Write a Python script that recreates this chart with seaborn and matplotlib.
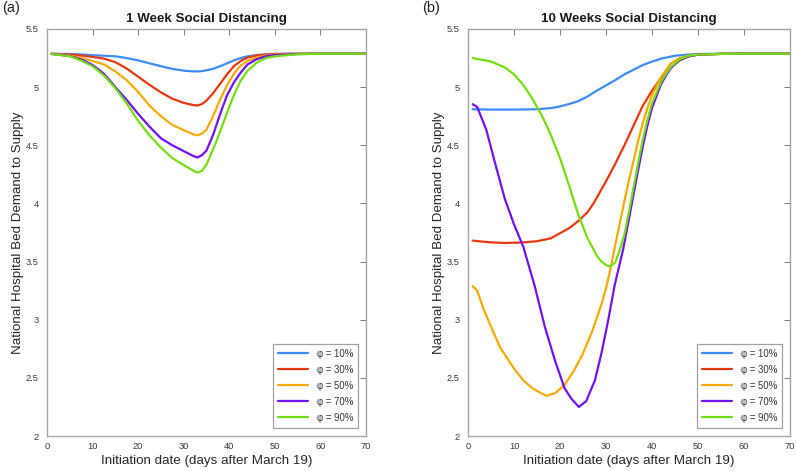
import numpy as np
import pandas as pd
import seaborn as sns
import matplotlib
matplotlib.use("Agg")
import matplotlib.pyplot as plt

# ---------------- data ----------------
series_labels = ["φ = 10%", "φ = 30%", "φ = 50%", "φ = 70%", "φ = 90%"]
colors = ["#3a8cff", "#e8380f", "#f7aa05", "#7212f0", "#74dd10"]

# Panel (a): 1 week social distancing
x_a = [1, 5, 8, 10, 12.5, 15, 17.5, 20, 22.5, 25, 27.5, 30, 32, 33, 34, 35, 36.5, 38, 39.5, 41, 42.5, 44, 46, 48, 50, 55, 60, 70]
a_10 = [5.287, 5.285, 5.28, 5.275, 5.27, 5.265, 5.25, 5.23, 5.205, 5.18, 5.157, 5.142, 5.136, 5.135, 5.138, 5.145, 5.158, 5.18, 5.205, 5.23, 5.25, 5.265, 5.275, 5.282, 5.286, 5.287, 5.287, 5.287]
a_30 = [5.287, 5.28, 5.27, 5.26, 5.245, 5.215, 5.16, 5.09, 5.02, 4.955, 4.9, 4.865, 4.846, 4.842, 4.855, 4.885, 4.95, 5.03, 5.11, 5.18, 5.225, 5.255, 5.272, 5.28, 5.285, 5.287, 5.287, 5.287]
a_50 = [5.286, 5.272, 5.245, 5.225, 5.195, 5.135, 5.06, 4.96, 4.84, 4.75, 4.675, 4.63, 4.595, 4.585, 4.6, 4.635, 4.755, 4.895, 5.015, 5.115, 5.185, 5.225, 5.255, 5.27, 5.28, 5.286, 5.287, 5.287]
a_70 = [5.286, 5.268, 5.23, 5.19, 5.115, 5.0, 4.89, 4.77, 4.66, 4.56, 4.5, 4.45, 4.41, 4.395, 4.415, 4.455, 4.595, 4.77, 4.93, 5.04, 5.125, 5.195, 5.24, 5.265, 5.275, 5.285, 5.287, 5.287]
a_90 = [5.285, 5.265, 5.22, 5.18, 5.1, 4.99, 4.86, 4.71, 4.585, 4.48, 4.39, 4.33, 4.285, 4.265, 4.28, 4.335, 4.47, 4.62, 4.78, 4.93, 5.055, 5.14, 5.21, 5.25, 5.265, 5.283, 5.287, 5.287]

# Panel (b): 10 weeks social distancing
x_b10 = [1, 5, 10, 15, 18, 20, 22, 24, 26, 28, 30, 32, 34, 36, 38, 40, 42, 45, 48, 50, 55, 60, 70]
b_10 = [4.81, 4.807, 4.807, 4.81, 4.82, 4.834, 4.855, 4.88, 4.92, 4.97, 5.015, 5.06, 5.11, 5.15, 5.19, 5.22, 5.245, 5.27, 5.28, 5.285, 5.287, 5.287, 5.287]
x_b30 = [1, 3, 5, 8, 10, 12, 15, 18, 20, 22, 24, 26, 27.2, 28, 30, 32, 34, 36, 38, 40, 42, 44, 46, 48, 50, 55, 60, 70]
b_30 = [3.68, 3.672, 3.665, 3.66, 3.662, 3.665, 3.675, 3.70, 3.744, 3.787, 3.85, 3.925, 3.995, 4.05, 4.19, 4.34, 4.50, 4.67, 4.84, 4.97, 5.08, 5.17, 5.23, 5.265, 5.28, 5.286, 5.287, 5.287]
x_b50 = [1, 2, 3.5, 5, 7, 10, 12, 14, 17, 19, 21, 23, 25, 27, 29, 30, 31, 32, 33, 34, 35, 36, 37, 38, 39, 40, 42, 44, 46, 48, 50, 55, 60, 70]
b_50 = [3.29, 3.25, 3.08, 2.94, 2.76, 2.58, 2.48, 2.41, 2.345, 2.37, 2.44, 2.56, 2.71, 2.90, 3.13, 3.27, 3.44, 3.64, 3.83, 4.02, 4.20, 4.37, 4.54, 4.69, 4.82, 4.93, 5.09, 5.20, 5.25, 5.27, 5.28, 5.286, 5.287, 5.287]
x_b70 = [1, 2, 4, 6, 8, 10, 12, 14.5, 16.7, 18.9, 21, 22.5, 24.1, 25.7, 27.6, 29, 30.5, 31.9, 33.7, 35, 36, 37, 38, 39, 40, 42, 44, 46, 48, 50, 55, 60, 70]
b_70 = [4.853, 4.83, 4.63, 4.33, 4.04, 3.82, 3.63, 3.29, 2.94, 2.65, 2.41, 2.32, 2.25, 2.30, 2.48, 2.71, 3.0, 3.30, 3.6, 3.87, 4.08, 4.29, 4.49, 4.67, 4.82, 5.03, 5.16, 5.235, 5.265, 5.28, 5.286, 5.287, 5.287]
x_b90 = [1, 5, 8, 10, 12, 14, 16, 18, 20, 22, 24, 26, 28, 29, 30, 30.8, 32, 33, 34, 35, 36, 37, 38, 39, 40, 42, 44, 46, 48, 50, 55, 60, 70]
b_90 = [5.25, 5.22, 5.17, 5.11, 5.02, 4.90, 4.76, 4.59, 4.39, 4.15, 3.90, 3.70, 3.55, 3.50, 3.47, 3.457, 3.49, 3.60, 3.73, 3.93, 4.14, 4.35, 4.55, 4.72, 4.86, 5.05, 5.17, 5.24, 5.27, 5.28, 5.286, 5.287, 5.287]

titles = ["1 Week Social Distancing", "10 Weeks Social Distancing"]
panel_tags = ["(a)", "(b)"]
xlabel = "Initiation date (days after March 19)"
ylabel = "National Hospital Bed Demand to Supply"
xticks = [0, 10, 20, 30, 40, 50, 60, 70]
yticks = [2, 2.5, 3, 3.5, 4, 4.5, 5, 5.5]
ytick_labels = ["2", "2.5", "3", "3.5", "4", "4.5", "5", "5.5"]

# ---------------- build tables ----------------
def long_df(pairs):
    frames = []
    for lab, (xs, ys) in zip(series_labels, pairs):
        frames.append(pd.DataFrame({"x": xs, "y": ys, "series": lab}))
    return pd.concat(frames, ignore_index=True)

df_a = long_df([(x_a, a_10), (x_a, a_30), (x_a, a_50), (x_a, a_70), (x_a, a_90)])
df_b = long_df([(x_b10, b_10), (x_b30, b_30), (x_b50, b_50), (x_b70, b_70), (x_b90, b_90)])

# ---------------- plot ----------------
sns.set_style("white")
plt.rcParams["font.family"] = ["Liberation Sans", "DejaVu Sans"]

fig = plt.figure(figsize=(7.96, 4.71), dpi=100)
ax_a = fig.add_axes([47 / 796, 35 / 471, 319 / 796, 407 / 471])
ax_b = fig.add_axes([468 / 796, 35 / 471, 322 / 796, 407 / 471])

palette = dict(zip(series_labels, colors))
for ax, df, title in zip([ax_a, ax_b], [df_a, df_b], titles):
    sns.lineplot(data=df, x="x", y="y", hue="series", palette=palette,
                 linewidth=1.6, ax=ax, legend=True, estimator=None, sort=True)
    ax.set_xlim(0, 70)
    ax.set_ylim(2, 5.5)
    ax.set_xticks(xticks)
    ax.set_yticks(yticks)
    ax.set_yticklabels(ytick_labels)
    ax.tick_params(direction="in", length=4, width=0.7, colors="#7a7a7a",
                   labelcolor="#3a3a3a", labelsize=6.7, top=True, right=True)
    ax.tick_params(axis="y", pad=6)
    ax.tick_params(axis="x", pad=4)
    for sp in ax.spines.values():
        sp.set_color("#a6a6a6")
        sp.set_linewidth(1.0)
    ax.set_xlabel(xlabel, fontsize=9.6, color="#262626", labelpad=3)
    ax.set_ylabel(ylabel, fontsize=9.6, color="#262626", labelpad=1)
    ax.set_title(title, fontsize=9.6, fontweight="bold", color="#1a1a1a", pad=5)
    handles, labels = ax.get_legend_handles_labels()
    leg = ax.legend(handles, labels, loc="lower right",
                    bbox_to_anchor=(0.976, 0.02), fontsize=6.9,
                    frameon=True, fancybox=False, edgecolor="#8a8a8a",
                    handlelength=3.1, labelspacing=0.62, borderpad=0.55,
                    handletextpad=0.9, borderaxespad=0)
    leg.get_frame().set_linewidth(0.9)
    for t in leg.get_texts():
        t.set_color("#333333")

fig.text(2 / 796, 1 - 8 / 471, panel_tags[0], fontsize=10.5, va="center", ha="left", color="#222222")
fig.text(422 / 796, 1 - 8 / 471, panel_tags[1], fontsize=10.5, va="center", ha="left", color="#222222")

fig.savefig("out.png", dpi=100)
